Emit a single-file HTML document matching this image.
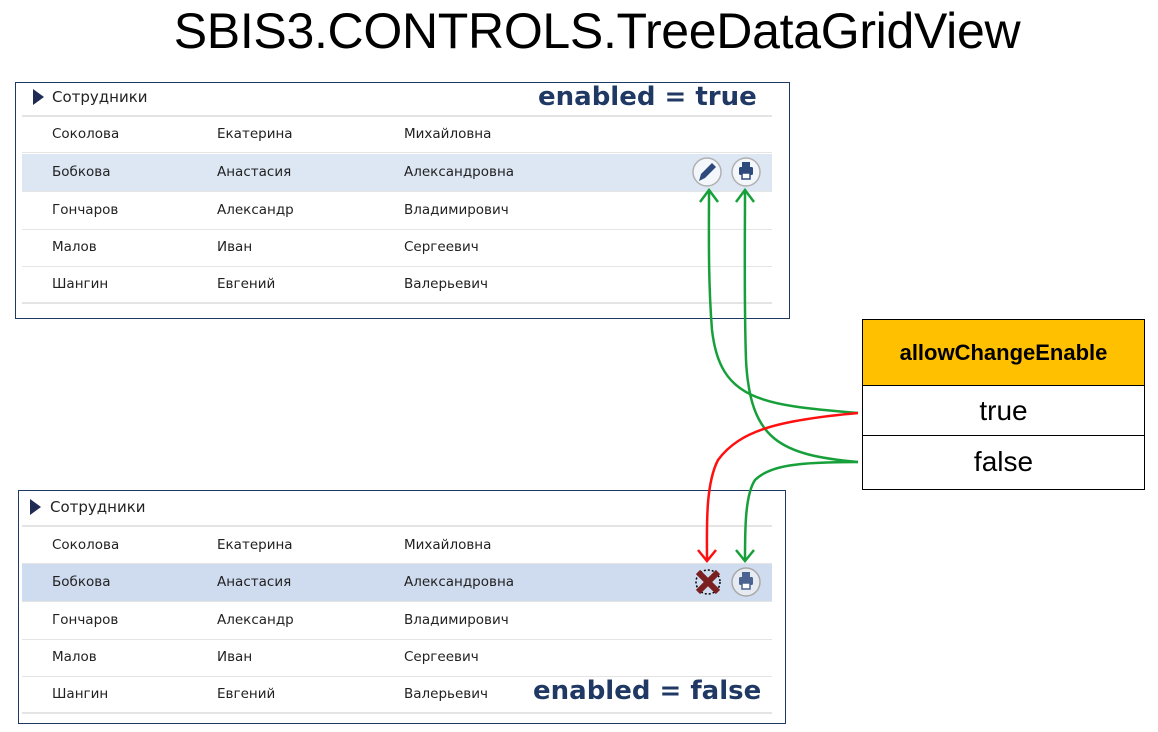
<!DOCTYPE html>
<html><head><meta charset="utf-8"><style>
body{margin:0;width:1158px;height:732px;background:#fff;position:relative;overflow:hidden;font-family:"Liberation Sans","DejaVu Sans",sans-serif}
.t{position:absolute;font-size:13.5px;color:#222;font-family:"DejaVu Sans",sans-serif}
.panel{position:absolute;border:1.5px solid #1f3864;box-sizing:border-box}
.hl{position:absolute;left:22px;width:750px;background:#dde7f4}
.ln{position:absolute;left:22px;width:750px;height:2px;background:#e4e4e4}
.big{position:absolute;font-weight:bold;color:#1f3864;font-size:26px;font-family:"DejaVu Sans",sans-serif}
</style></head><body>
<div style="position:absolute;left:18px;width:1158px;top:2px;text-align:center;font-size:50px;color:#000;letter-spacing:-0.3px">SBIS3.CONTROLS.TreeDataGridView</div>

<div class="panel" style="left:15px;top:82px;width:775px;height:237px"></div>
<div class="hl" style="top:154px;height:37px"></div>
<div class="ln" style="top:115px"></div><div class="ln" style="top:152px;height:1px"></div>
<div class="ln" style="top:191px;height:1px"></div><div class="ln" style="top:229px;height:1px"></div>
<div class="ln" style="top:266px;height:1px"></div><div class="ln" style="top:302px"></div>
<div style="position:absolute;left:33px;top:89px;width:0;height:0;border-top:8px solid transparent;border-bottom:8px solid transparent;border-left:11px solid #1f2a55"></div>
<div class="t" style="left:52px;top:88px;font-size:15px">Сотрудники</div>
<div class="big" style="left:538px;top:82px">enabled = true</div>
<div class="t" style="left:52px;top:126px">Соколова</div><div class="t" style="left:217px;top:126px">Екатерина</div><div class="t" style="left:404px;top:126px">Михайловна</div>
<div class="t" style="left:52px;top:164px">Бобкова</div><div class="t" style="left:217px;top:164px">Анастасия</div><div class="t" style="left:404px;top:164px">Александровна</div>
<div class="t" style="left:52px;top:202px">Гончаров</div><div class="t" style="left:217px;top:202px">Александр</div><div class="t" style="left:404px;top:202px">Владимирович</div>
<div class="t" style="left:52px;top:239px">Малов</div><div class="t" style="left:217px;top:239px">Иван</div><div class="t" style="left:404px;top:239px">Сергеевич</div>
<div class="t" style="left:52px;top:276px">Шангин</div><div class="t" style="left:217px;top:276px">Евгений</div><div class="t" style="left:404px;top:276px">Валерьевич</div>

<div class="panel" style="left:18px;top:490px;width:768px;height:234px"></div>
<div class="hl" style="top:564px;height:37px;background:#cfdcef"></div>
<div class="ln" style="top:525px"></div><div class="ln" style="top:563px;height:1px"></div>
<div class="ln" style="top:601px;height:1px"></div><div class="ln" style="top:639px;height:1px"></div>
<div class="ln" style="top:676px;height:1px"></div><div class="ln" style="top:712px"></div>
<div style="position:absolute;left:30px;top:499px;width:0;height:0;border-top:8px solid transparent;border-bottom:8px solid transparent;border-left:11px solid #1f2a55"></div>
<div class="t" style="left:50px;top:498px;font-size:15px">Сотрудники</div>
<div class="t" style="left:52px;top:537px">Соколова</div><div class="t" style="left:217px;top:537px">Екатерина</div><div class="t" style="left:404px;top:537px">Михайловна</div>
<div class="t" style="left:52px;top:574px">Бобкова</div><div class="t" style="left:217px;top:574px">Анастасия</div><div class="t" style="left:404px;top:574px">Александровна</div>
<div class="t" style="left:52px;top:612px">Гончаров</div><div class="t" style="left:217px;top:612px">Александр</div><div class="t" style="left:404px;top:612px">Владимирович</div>
<div class="t" style="left:52px;top:649px">Малов</div><div class="t" style="left:217px;top:649px">Иван</div><div class="t" style="left:404px;top:649px">Сергеевич</div>
<div class="t" style="left:52px;top:686px">Шангин</div><div class="t" style="left:217px;top:686px">Евгений</div><div class="t" style="left:404px;top:686px">Валерьевич</div>
<div class="big" style="left:533px;top:676px">enabled = false</div>

<div style="position:absolute;left:862px;top:319px;width:283px;height:171px;border:1.5px solid #000;box-sizing:border-box;background:#fff">
<div style="height:65px;background:#ffc000;border-bottom:1.5px solid #000;text-align:center;line-height:66px;font-weight:bold;font-size:22px">allowChangeEnable</div>
<div style="height:49px;border-bottom:1.5px solid #000;text-align:center;line-height:50px;font-size:28px">true</div>
<div style="text-align:center;line-height:52px;font-size:28px">false</div>
</div>

<svg width="1158" height="732" style="position:absolute;left:0;top:0">
<g>
<circle cx="707" cy="172" r="14" fill="#f3f6fa" stroke="#b0b0b0" stroke-width="1.5"/>
<path d="M699 181 L701 174 L712 163 L716 167 L705 178 Z" fill="#2e4a7d"/>
<circle cx="746" cy="172" r="14" fill="#f3f6fa" stroke="#b0b0b0" stroke-width="1.5"/>
<rect x="739" y="167" width="14" height="8" rx="1.5" fill="#2e4a7d"/><rect x="742" y="162" width="8" height="5" fill="#2e4a7d"/><rect x="742" y="173" width="8" height="6" fill="#fff" stroke="#2e4a7d" stroke-width="1.5"/>
<circle cx="746" cy="582" r="14" fill="#e6ebf2" stroke="#a8a8a8" stroke-width="1.5"/>
<rect x="739" y="577" width="14" height="8" rx="1.5" fill="#4a6390"/><rect x="742" y="572" width="8" height="5" fill="#4a6390"/><rect x="742" y="583" width="8" height="6" fill="#fff" stroke="#4a6390" stroke-width="1.5"/>
<circle cx="708" cy="582" r="12" fill="none" stroke="#000" stroke-width="1.5" stroke-dasharray="2 2"/>
<path d="M698 572 L718 592 M718 572 L698 592" stroke="#7b2020" stroke-width="6"/>
</g>
<g fill="none" stroke-width="2.5">
<path d="M858 413 C760 405 720 400 712 330 C708 280 709 230 709 192" stroke="#17a03a"/>
<path d="M700 202 L709 190 L718 202" stroke="#17a03a"/>
<path d="M858 462 C780 455 750 440 746 360 C744 300 745 240 745 192" stroke="#17a03a"/>
<path d="M736 202 L745 190 L754 202" stroke="#17a03a"/>
<path d="M858 413 C780 420 740 430 718 460 C705 485 707 530 707 560" stroke="#ff1010"/>
<path d="M698 550 L707 561 L716 550" stroke="#ff1010"/>
<path d="M858 462 C800 462 770 465 755 480 C745 495 745 530 745 560" stroke="#17a03a"/>
<path d="M736 550 L745 561 L754 550" stroke="#17a03a"/>
</g>
</svg>
</body></html>
